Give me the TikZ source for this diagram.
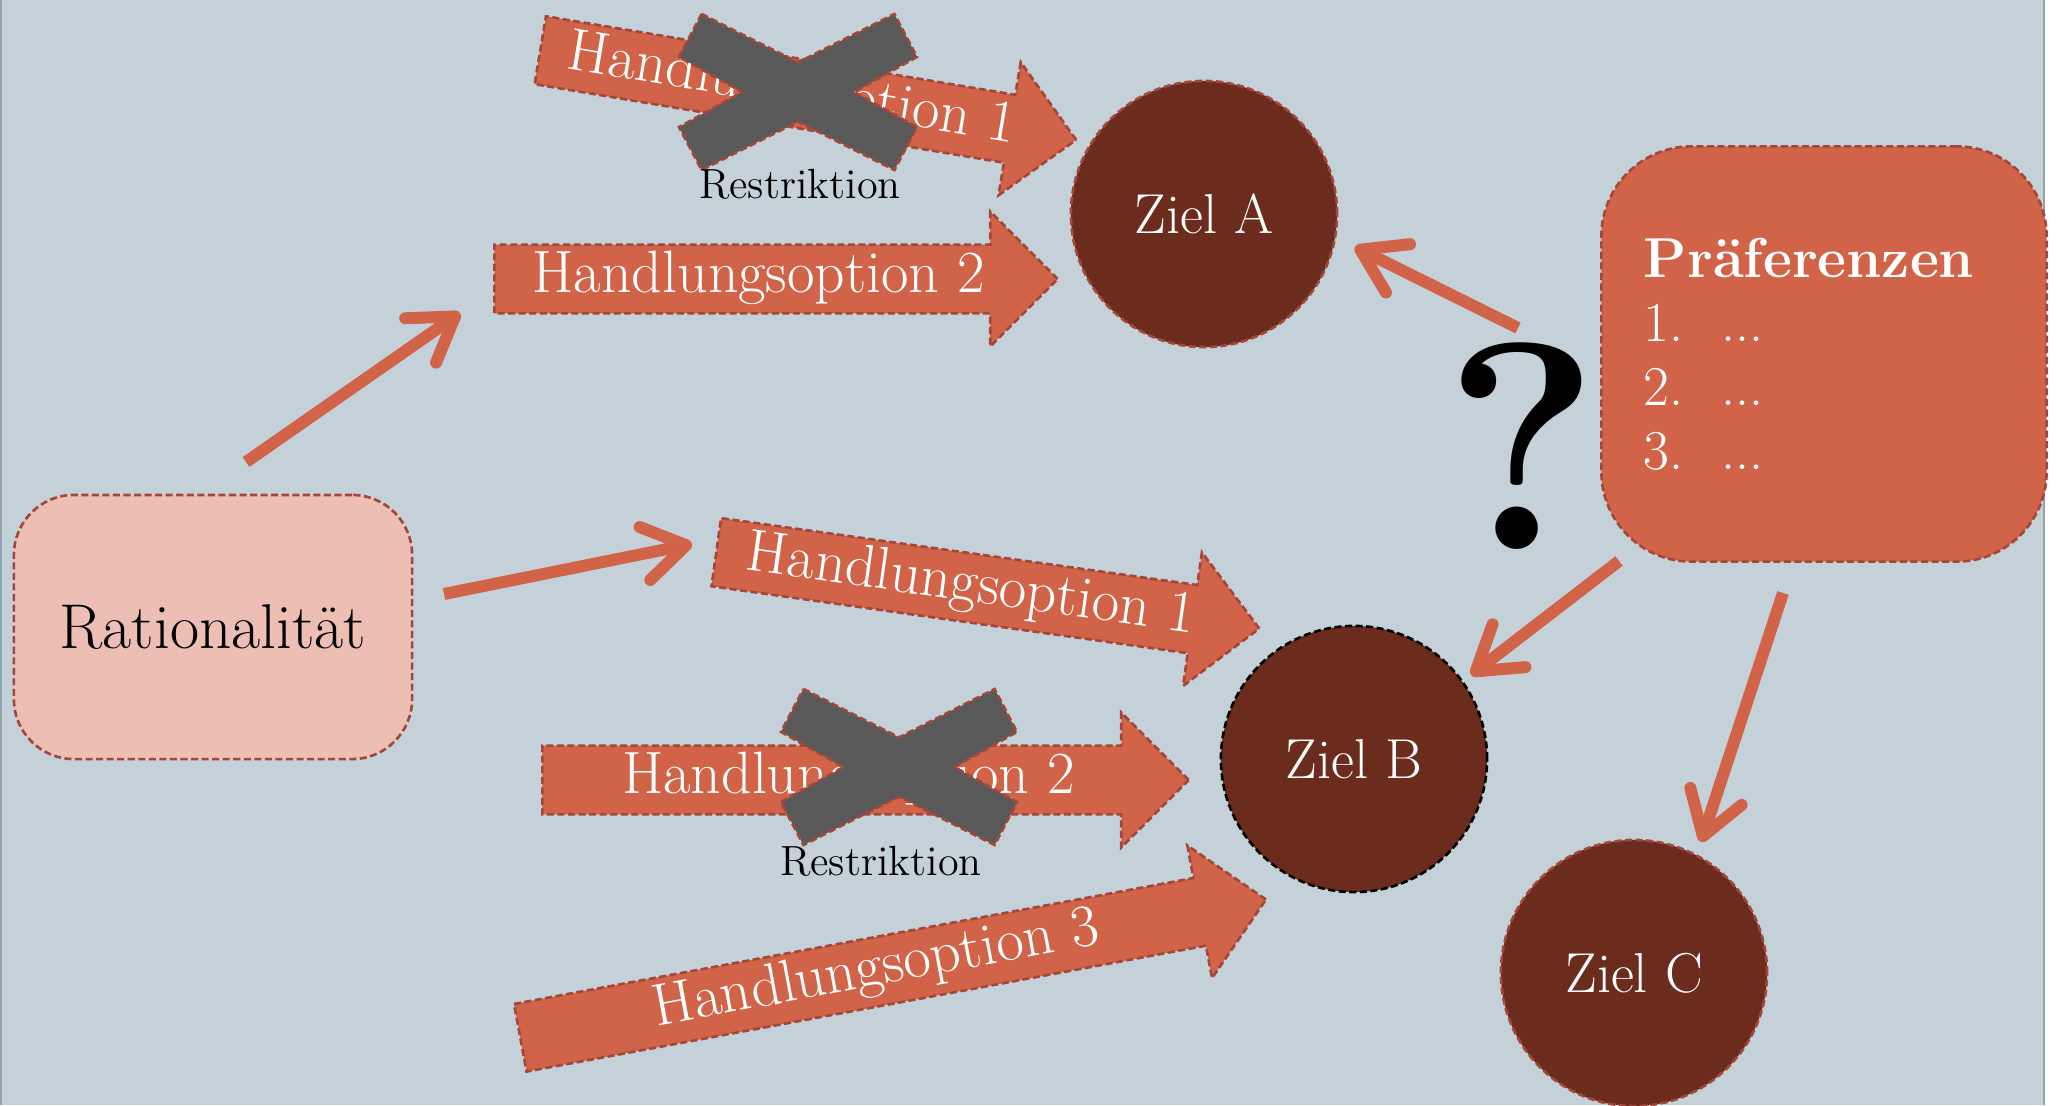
\documentclass[tikz,border=0pt]{standalone}
\usepackage{fontspec}
\usetikzlibrary{shapes.arrows,arrows.meta}

\definecolor{bgblue}{HTML}{C5D1D8}
\definecolor{frameline}{HTML}{8FA4A8}
\definecolor{hfill}{HTML}{D16349}
\definecolor{hline}{HTML}{A2473A}
\definecolor{ratfill}{HTML}{EDBFB4}
\definecolor{zielfill}{HTML}{6B2B1D}
\definecolor{xgray}{HTML}{595959}

\tikzset{
  dashline/.style={dash pattern=on 2pt off 1pt, line width=0.75pt},
  hopt/.style={single arrow, anchor=tail, fill=hfill, draw=hline, dashline,
    text=white, font=\fontsize{17}{20}\selectfont,
    text height=11pt, text depth=3.3pt, inner ysep=2.25pt, inner xsep=2pt,
    single arrow head extend=9.4pt, single arrow tip angle=90},
  ziel/.style={circle, minimum size=2.66cm, fill=zielfill, draw=hline, dashline,
    text=white, font=\fontsize{16}{19}\selectfont},
  thinarrow/.style={draw=hfill, line width=3.4pt,
    -{Straight Barb[length=4.2mm, width=5.4mm, round]}},
  restr/.style={font=\fontsize{12}{14}\selectfont},
  cross/.style={fill=xgray, draw=hline, dashline},
}

\begin{document}
\begin{tikzpicture}[x=0.01cm, y=-0.01cm]
    \useasboundingbox (0,0) rectangle (2056,1105);
    \fill[bgblue] (0,0) rectangle (2044,1105);
    \draw[frameline, line width=0.6pt] (1,0) -- (1,1105) (2044,0) -- (2044,1105);

    % boxes
    \node[rounded corners=0.6cm, minimum width=3.98cm, minimum height=2.64cm,
        fill=ratfill, draw=hline, dashline,
        font=\fontsize{18}{22}\selectfont] (rat) at (213,627) {Rationalität};
    \node[rounded corners=0.9cm, minimum width=4.45cm, minimum height=4.15cm,
        fill=hfill, draw=hline, dashline, text=white, align=left, text width=3.6cm,
        font=\fontsize{16}{18.2}\selectfont] (pref) at (1824,354)
        {\textbf{Präferenzen}\\
         \makebox[22pt][l]{1.}...\\
         \makebox[22pt][l]{2.}...\\
         \makebox[22pt][l]{3.}...};

    % goals
    \node[ziel] (zA) at (1204,214) {Ziel A};
    \node[ziel, draw=black] (zB) at (1354,759) {Ziel B};
    \node[ziel] (zC) at (1634,973) {Ziel C};

    % options
    \node[hopt, minimum height=5.43cm, rotate=-9.5] (ho1a) at (539,50) {Handlungsoption 1};
    \node[hopt, minimum height=5.63cm] (ho2a) at (493,279) {Handlungsoption 2};
    \node[hopt, minimum height=5.48cm, rotate=-8] (ho1b) at (715,552) {Handlungsoption 1};
    \node[hopt, minimum height=6.46cm] (ho2b) at (541,780) {Handlungsoption 2};
    \node[hopt, minimum height=7.58cm, rotate=10.5] (ho3) at (519,1038) {Handlungsoption 3};

    % restrictions
    \foreach \cx/\cy/\w in {798/92/119, 899/767/118}
        \filldraw[cross, shift={(\cx,\cy)}, xscale=\w, yscale=78]
            (-0.81,-1) -- (0,-0.38) -- (0.81,-1) -- (1,-0.45) -- (0.47,0)
            -- (1,0.45) -- (0.81,1) -- (0,0.38) -- (-0.81,1) -- (-1,0.45)
            -- (-0.47,0) -- (-1,-0.45) -- cycle;
    \node[restr] (res1) at (800,184) {Restriktion};
    \node[restr] (res2) at (881,861) {Restriktion};

    \node[font=\fontsize{84}{90}\selectfont\bfseries, inner sep=0pt] (qm) at (1522,446) {?};

    % thin arrows
    \coordinate (rat-up) at (246,462);
    \coordinate (ho2a-in) at (460,313);
    \coordinate (rat-right) at (444,594);
    \coordinate (ho1b-in) at (692,544);
    \coordinate (pref-a) at (1518,328);
    \coordinate (zA-in) at (1355,247);
    \coordinate (pref-b) at (1619,561);
    \coordinate (zB-in) at (1471,675);
    \coordinate (pref-c) at (1783,593);
    \coordinate (zC-in) at (1701,842);

    \foreach \a/\b in {rat-up/ho2a-in, rat-right/ho1b-in,
        pref-a/zA-in, pref-b/zB-in, pref-c/zC-in} {
        \draw[thinarrow] (\a) -- (\b);
    }
\end{tikzpicture}
\end{document}
